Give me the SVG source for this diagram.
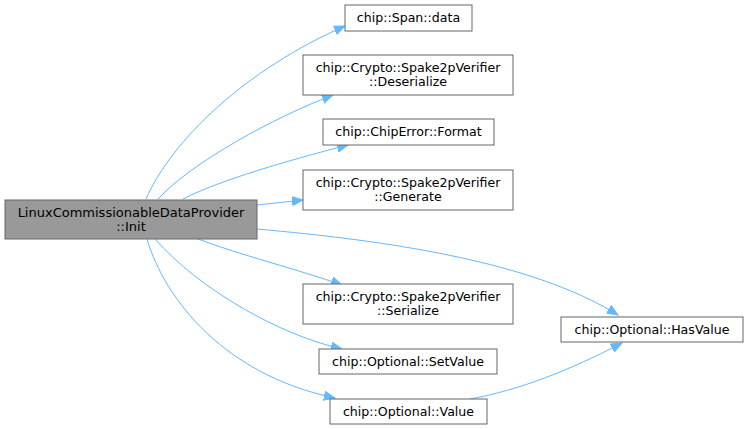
<svg xmlns="http://www.w3.org/2000/svg" width="748" height="429" viewBox="0 0 748 429">
<defs>
<style>
.n rect{fill:#fff;stroke:#666;stroke-width:1}
.n.main rect{fill:#999}
.n text{font-family:"DejaVu Sans",sans-serif;font-size:12.6px;fill:#000;text-anchor:middle}
.n.main text{font-size:13px}
.e path{fill:none;stroke:#63b8ff;stroke-width:1}
</style>
<marker id="ah" markerUnits="userSpaceOnUse" markerWidth="12" markerHeight="10" refX="11" refY="5" orient="auto">
<path d="M0,0.5 L11,5 L0,9.5 Z" fill="#63b8ff" stroke="#63b8ff"/>
</marker>
</defs>
<rect width="748" height="429" fill="#fff"/>
<g id="edges" class="e">
<path d="M146,199 C172,140 245,70 345,26" marker-end="url(#ah)"/>
<path d="M158,199 C192,162 275,117 333,95" marker-end="url(#ah)"/>
<path d="M183,199 C220,180 290,160 348,145" marker-end="url(#ah)"/>
<path d="M257,205 L303,200" marker-end="url(#ah)"/>
<path d="M257,229 C380,240 530,260 618,315" marker-end="url(#ah)"/>
<path d="M198,239 C240,255 300,270 342,285" marker-end="url(#ah)"/>
<path d="M155,239 C200,290 280,335 342,349" marker-end="url(#ah)"/>
<path d="M147,239 C165,300 225,375 335,398" marker-end="url(#ah)"/>
<path d="M470,399 C520,390 570,370 622,343" marker-end="url(#ah)"/>
</g>
<g id="init" class="n main"><rect x="5" y="200" width="252" height="39"/><text x="131" y="217">LinuxCommissionableDataProvider</text><text x="131" y="231">::Init</text></g>
<g id="span_data" class="n"><rect x="345" y="5" width="127" height="26"/><text x="408.5" y="22">chip::Span::data</text></g>
<g id="deserialize" class="n"><rect x="303" y="55" width="210" height="40"/><text x="408" y="72">chip::Crypto::Spake2pVerifier</text><text x="408" y="86">::Deserialize</text></g>
<g id="format" class="n"><rect x="323" y="119" width="171" height="26"/><text x="408.5" y="136">chip::ChipError::Format</text></g>
<g id="generate" class="n"><rect x="303" y="170" width="210" height="40"/><text x="408" y="187">chip::Crypto::Spake2pVerifier</text><text x="408" y="201">::Generate</text></g>
<g id="serialize" class="n"><rect x="303" y="284" width="210" height="40"/><text x="408" y="301">chip::Crypto::Spake2pVerifier</text><text x="408" y="315">::Serialize</text></g>
<g id="setvalue" class="n"><rect x="319" y="349" width="178" height="25"/><text x="408" y="366">chip::Optional::SetValue</text></g>
<g id="value" class="n"><rect x="330" y="399" width="157" height="25"/><text x="408.5" y="416">chip::Optional::Value</text></g>
<g id="hasvalue" class="n"><rect x="561" y="317" width="182" height="25"/><text x="652" y="334">chip::Optional::HasValue</text></g>
</svg>
